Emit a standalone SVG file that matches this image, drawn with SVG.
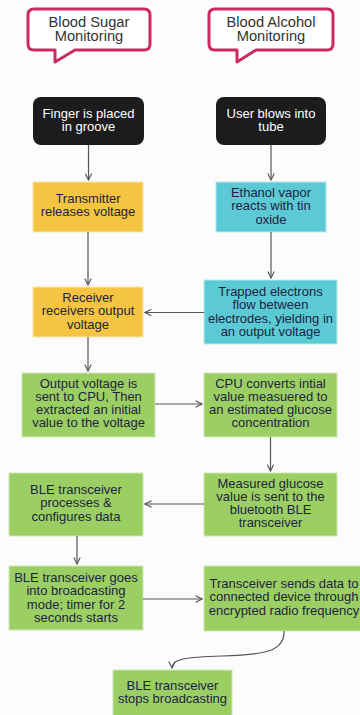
<svg xmlns="http://www.w3.org/2000/svg" width="360" height="715" viewBox="0 0 360 715">
<defs>
<marker id="ah" viewBox="0 0 10 10" refX="9" refY="5" markerWidth="8" markerHeight="8" markerUnits="userSpaceOnUse" orient="auto">
<path d="M1 1 L9 5 L1 9" fill="none" stroke="#555" stroke-width="1.4"/>
</marker>
<style>
.bub{fill:#fff;stroke:#cc2b5e;stroke-width:3;stroke-linejoin:round}
.bt{font-family:"Liberation Sans",Arial,sans-serif;font-size:14.7px;fill:#333;text-anchor:middle}
.t{font-family:"Liberation Sans",Arial,sans-serif;font-size:13px;fill:#1d2440;text-anchor:middle}
.tw{font-family:"Liberation Sans",Arial,sans-serif;font-size:13px;fill:#fff;text-anchor:middle}
.blk{fill:#1c1c1c}
.yel{fill:#f5c443;stroke:#fbe6a8;stroke-width:1}
.cya{fill:#5ccad5;stroke:#b6eaef;stroke-width:1}
.grn{fill:#9ccf63;stroke:#cfe8b2;stroke-width:1}
.c{fill:none;stroke:#555;stroke-width:1.2;marker-end:url(#ah)}
</style>
</defs>
<rect width="360" height="715" fill="#fcfcfc"/>
<g id="bubble-sugar">
<path class="bub" d="M34 9 H144 Q150 9 150 15 V44 Q150 50 144 50 H75 L55 62 V50 H34 Q28 50 28 44 V15 Q28 9 34 9 Z"/>
<text class="bt" x="89" y="27">Blood Sugar</text>
<text class="bt" x="89" y="41">Monitoring</text>
</g>
<g id="bubble-alcohol">
<path class="bub" d="M215 9 H327 Q333 9 333 15 V44 Q333 50 327 50 H256 L237 62 V50 H215 Q209 50 209 44 V15 Q209 9 215 9 Z"/>
<text class="bt" x="271" y="27">Blood Alcohol</text>
<text class="bt" x="271" y="41">Monitoring</text>
</g>
<g id="finger">
<rect class="blk" x="33" y="97" width="111" height="48" rx="8"/>
<text class="tw" x="88.5" y="118">Finger is placed</text>
<text class="tw" x="88.5" y="131">in groove</text>
</g>
<g id="blow">
<rect class="blk" x="216" y="97" width="110" height="48" rx="8"/>
<text class="tw" x="271" y="118">User blows into</text>
<text class="tw" x="271" y="131">tube</text>
</g>
<g id="transmitter">
<rect class="yel" x="33" y="182" width="110" height="50"/>
<text class="t" x="88" y="203">Transmitter</text>
<text class="t" x="88" y="216.3">releases voltage</text>
</g>
<g id="ethanol">
<rect class="cya" x="216" y="182" width="110" height="50"/>
<text class="t" x="271" y="197">Ethanol vapor</text>
<text class="t" x="271" y="210.3">reacts with tin</text>
<text class="t" x="271" y="223.6">oxide</text>
</g>
<g id="receiver">
<rect class="yel" x="33" y="287" width="110" height="50"/>
<text class="t" x="88" y="302">Receiver</text>
<text class="t" x="88" y="315.3">receivers output</text>
<text class="t" x="88" y="328.6">voltage</text>
</g>
<g id="trapped">
<rect class="cya" x="204" y="280" width="133" height="64"/>
<text class="t" x="270.5" y="296">Trapped electrons</text>
<text class="t" x="270.5" y="309.3">flow between</text>
<text class="t" x="270.5" y="322.6">electrodes, yielding in</text>
<text class="t" x="270.5" y="335.9">an output voltage</text>
</g>
<g id="output">
<rect class="grn" x="22" y="373" width="133" height="64"/>
<text class="t" x="88.5" y="387.5">Output voltage is</text>
<text class="t" x="88.5" y="400.8">sent to CPU, Then</text>
<text class="t" x="88.5" y="414.1">extracted an initial</text>
<text class="t" x="88.5" y="427.4">value to the voltage</text>
</g>
<g id="cpu">
<rect class="grn" x="204" y="373" width="133" height="64"/>
<text class="t" x="270.5" y="387.5">CPU converts intial</text>
<text class="t" x="270.5" y="400.8">value measuered to</text>
<text class="t" x="270.5" y="414.1">an estimated glucose</text>
<text class="t" x="270.5" y="427.4">concentration</text>
</g>
<g id="measured">
<rect class="grn" x="204" y="473" width="133" height="63"/>
<text class="t" x="270.5" y="487.5">Measured glucose</text>
<text class="t" x="270.5" y="500.8">value is sent to the</text>
<text class="t" x="270.5" y="514.1">bluetooth BLE</text>
<text class="t" x="270.5" y="527.4">transceiver</text>
</g>
<g id="ble-process">
<rect class="grn" x="9" y="473" width="134" height="63"/>
<text class="t" x="76" y="494">BLE transceiver</text>
<text class="t" x="76" y="507.3">processes &amp;</text>
<text class="t" x="76" y="520.6">configures data</text>
</g>
<g id="ble-broadcast">
<rect class="grn" x="9" y="566" width="134" height="64"/>
<text class="t" x="76" y="582">BLE transceiver goes</text>
<text class="t" x="76" y="595.3">into broadcasting</text>
<text class="t" x="76" y="608.6">mode; timer for 2</text>
<text class="t" x="76" y="621.9">seconds starts</text>
</g>
<g id="send">
<rect class="grn" x="204" y="566" width="160" height="65"/>
<text class="t" x="284" y="588">Transceiver sends data to</text>
<text class="t" x="284" y="601.3">connected device through</text>
<text class="t" x="284" y="614.6">encrypted radio frequency</text>
</g>
<g id="stop">
<rect class="grn" x="113" y="670" width="119" height="48"/>
<text class="t" x="172.5" y="690">BLE transceiver</text>
<text class="t" x="172.5" y="703.3">stops broadcasting</text>
</g>
<g id="connectors">
<path class="c" d="M88.5 145 V180"/>
<path class="c" d="M271 145 V180"/>
<path class="c" d="M88 232 V285"/>
<path class="c" d="M271 232 V278"/>
<path class="c" d="M204 312.5 H145"/>
<path class="c" d="M88 337 V371"/>
<path class="c" d="M155 404 H202"/>
<path class="c" d="M270.5 437 V471"/>
<path class="c" d="M204 504 H145"/>
<path class="c" d="M77 536 V564"/>
<path class="c" d="M143 599 H202"/>
<path class="c" d="M284 631 C285 652 262 655 222 656 C185 657 172 659 172 668"/>
</g>
</svg>
